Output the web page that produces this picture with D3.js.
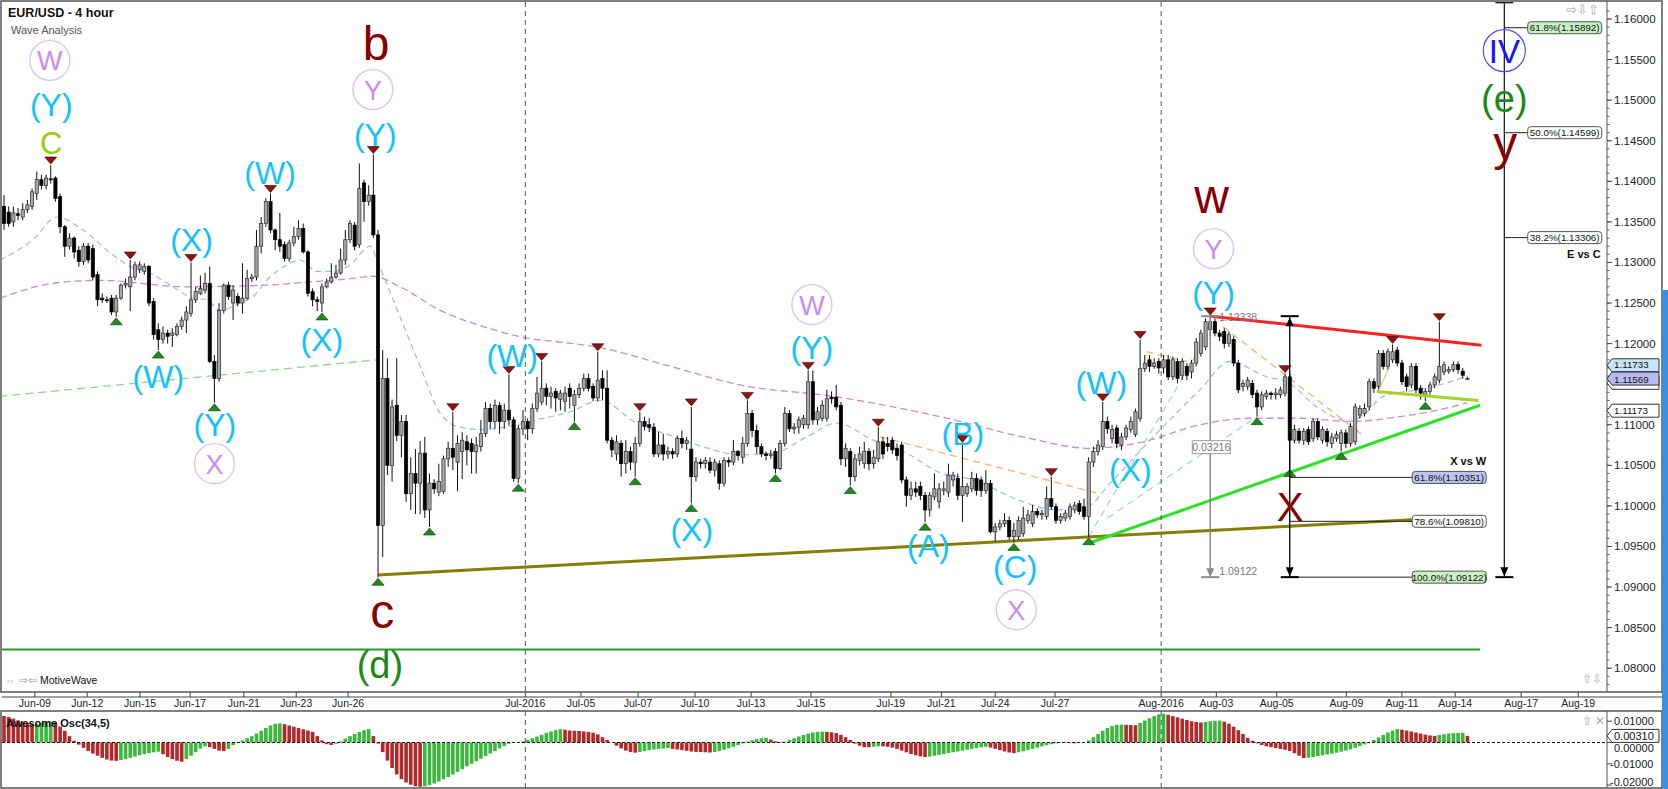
<!DOCTYPE html>
<html><head><meta charset="utf-8">
<script src="https://cdn.jsdelivr.net/npm/d3@7/dist/d3.min.js"></script>
<style>html,body{margin:0;padding:0;background:#fff;}svg{display:block;font-family:"Liberation Sans",Arial,sans-serif;}</style>
</head><body><svg id="chart" width="1668" height="789"></svg>
<script>
// ---------------- DATA ----------------
// 4-hour candles [open, high, low, close], bar index 0..313
const ohlc = [
[1.1369,1.1383,1.1340,1.1348],[1.1362,1.1369,1.1344,1.1348],[1.1350,1.1369,1.1344,1.1361],[1.1360,1.1367,1.1352,1.1358],[1.1356,1.1373,1.1352,1.1365],
[1.1365,1.1377,1.1361,1.1371],[1.1369,1.1391,1.1365,1.1387],[1.1385,1.1412,1.1377,1.1402],[1.1402,1.1408,1.1390,1.1395],[1.1395,1.1408,1.1390,1.1404],
[1.1403,1.1420,1.1397,1.1402],[1.1404,1.1406,1.1375,1.1379],[1.1381,1.1385,1.1336,1.1344],[1.1344,1.1346,1.1307,1.1320],[1.1320,1.1336,1.1316,1.1330],
[1.1330,1.1332,1.1305,1.1313],[1.1315,1.1320,1.1295,1.1301],[1.1301,1.1324,1.1297,1.1320],[1.1320,1.1324,1.1299,1.1303],[1.1317,1.1322,1.1278,1.1282],
[1.1285,1.1289,1.1246,1.1254],[1.1256,1.1262,1.1250,1.1254],[1.1254,1.1258,1.1250,1.1253],[1.1256,1.1260,1.1235,1.1239],[1.1239,1.1260,1.1233,1.1256],
[1.1256,1.1274,1.1254,1.1272],[1.1272,1.1280,1.1268,1.1274],[1.1270,1.1303,1.1240,1.1282],[1.1282,1.1301,1.1278,1.1297],[1.1291,1.1301,1.1287,1.1297],
[1.1289,1.1299,1.1285,1.1295],[1.1295,1.1297,1.1246,1.1250],[1.1252,1.1256,1.1205,1.1211],[1.1217,1.1225,1.1192,1.1205],[1.1205,1.1221,1.1200,1.1213],
[1.1213,1.1217,1.1200,1.1209],[1.1210,1.1219,1.1196,1.1213],[1.1211,1.1225,1.1209,1.1221],[1.1221,1.1233,1.1217,1.1229],[1.1229,1.1246,1.1213,1.1239],
[1.1237,1.1300,1.1233,1.1254],[1.1254,1.1270,1.1250,1.1264],[1.1262,1.1284,1.1260,1.1268],[1.1266,1.1287,1.1262,1.1274],[1.1274,1.1295,1.1176,1.1178],
[1.1178,1.1186,1.1127,1.1157],[1.1157,1.1250,1.1153,1.1241],[1.1241,1.1274,1.1237,1.1272],[1.1272,1.1276,1.1254,1.1258],[1.1250,1.1272,1.1229,1.1266],
[1.1258,1.1262,1.1246,1.1250],[1.1250,1.1299,1.1237,1.1256],[1.1256,1.1291,1.1254,1.1280],[1.1280,1.1286,1.1276,1.1282],[1.1282,1.1340,1.1278,1.1320],
[1.1320,1.1356,1.1311,1.1348],[1.1348,1.1379,1.1344,1.1375],[1.1375,1.1385,1.1336,1.1340],[1.1340,1.1342,1.1315,1.1328],[1.1328,1.1361,1.1313,1.1320],
[1.1322,1.1326,1.1301,1.1305],[1.1305,1.1328,1.1301,1.1324],[1.1324,1.1344,1.1320,1.1332],[1.1332,1.1352,1.1328,1.1342],[1.1342,1.1348,1.1311,1.1313],
[1.1313,1.1315,1.1258,1.1262],[1.1264,1.1268,1.1246,1.1254],[1.1254,1.1258,1.1240,1.1252],[1.1250,1.1274,1.1239,1.1270],[1.1270,1.1280,1.1268,1.1276],
[1.1276,1.1299,1.1274,1.1282],[1.1282,1.1297,1.1280,1.1287],[1.1287,1.1317,1.1285,1.1303],[1.1303,1.1340,1.1297,1.1328],[1.1328,1.1352,1.1324,1.1348],
[1.1346,1.1350,1.1315,1.1320],[1.1322,1.1422,1.1318,1.1391],[1.1398,1.1402,1.1350,1.1375],[1.1375,1.1395,1.1370,1.1383],[1.1383,1.1433,1.1330,1.1334],
[1.1334,1.1340,1.0912,1.0976],[1.0976,1.1192,1.0937,1.1157],[1.1157,1.1182,1.1038,1.1050],[1.1050,1.1131,1.1030,1.1122],[1.1124,1.1182,1.1080,1.1087],
[1.1087,1.1112,1.1060,1.1104],[1.1104,1.1112,1.1005,1.1015],[1.1015,1.1060,1.0995,1.1040],[1.1040,1.1070,1.0990,1.1028],[1.1028,1.1080,1.0990,1.1065],
[1.1065,1.1085,1.0985,1.0995],[1.0995,1.1040,1.0974,1.1028],[1.1028,1.1033,1.1015,1.1021],[1.1017,1.1052,1.1012,1.1030],[1.1018,1.1062,1.1015,1.1058],
[1.1058,1.1079,1.1048,1.1071],[1.1071,1.1116,1.1044,1.1060],[1.1054,1.1087,1.1018,1.1077],[1.1067,1.1091,1.1033,1.1081],[1.1079,1.1087,1.1050,1.1069],
[1.1077,1.1083,1.1040,1.1067],[1.1067,1.1085,1.1040,1.1075],[1.1073,1.1106,1.1067,1.1089],[1.1089,1.1128,1.1085,1.1120],[1.1120,1.1126,1.1095,1.1104],
[1.1104,1.1131,1.1095,1.1124],[1.1124,1.1128,1.1089,1.1104],[1.1104,1.1126,1.1095,1.1118],[1.1118,1.1162,1.1099,1.1106],[1.1106,1.1110,1.1030,1.1034],
[1.1034,1.1100,1.1028,1.1095],[1.1095,1.1118,1.1087,1.1104],[1.1104,1.1108,1.1081,1.1095],[1.1095,1.1126,1.1089,1.1120],[1.1120,1.1159,1.1116,1.1139],
[1.1128,1.1178,1.1124,1.1145],[1.1145,1.1151,1.1124,1.1135],[1.1135,1.1147,1.1120,1.1139],[1.1141,1.1145,1.1116,1.1133],[1.1131,1.1143,1.1118,1.1139],
[1.1129,1.1147,1.1116,1.1139],[1.1145,1.1151,1.1120,1.1135],[1.1124,1.1143,1.1104,1.1137],[1.1137,1.1151,1.1133,1.1145],[1.1145,1.1163,1.1141,1.1157],
[1.1157,1.1163,1.1141,1.1145],[1.1147,1.1151,1.1129,1.1133],[1.1133,1.1190,1.1129,1.1155],[1.1157,1.1167,1.1130,1.1145],[1.1145,1.1167,1.1077,1.1081],
[1.1081,1.1085,1.1060,1.1069],[1.1064,1.1087,1.1056,1.1079],[1.1077,1.1081,1.1036,1.1052],[1.1052,1.1081,1.1040,1.1067],[1.1067,1.1073,1.1044,1.1054],
[1.1054,1.1085,1.1036,1.1077],[1.1077,1.1116,1.1073,1.1104],[1.1104,1.1110,1.1093,1.1098],[1.1100,1.1108,1.1091,1.1097],[1.1097,1.1102,1.1060,1.1064],
[1.1064,1.1091,1.1060,1.1075],[1.1075,1.1089,1.1056,1.1064],[1.1064,1.1073,1.1058,1.1067],[1.1067,1.1071,1.1058,1.1064],[1.1064,1.1087,1.1060,1.1083],
[1.1083,1.1093,1.1071,1.1077],[1.1077,1.1085,1.1069,1.1081],[1.1070,1.1122,1.1003,1.1036],[1.1036,1.1060,1.1030,1.1054],[1.1054,1.1058,1.1046,1.1052],
[1.1052,1.1060,1.1046,1.1056],[1.1054,1.1060,1.1040,1.1044],[1.1044,1.1058,1.1036,1.1054],[1.1052,1.1056,1.1020,1.1028],[1.1028,1.1060,1.1024,1.1056],
[1.1056,1.1060,1.1048,1.1054],[1.1054,1.1081,1.1050,1.1067],[1.1067,1.1069,1.1056,1.1062],[1.1060,1.1085,1.1052,1.1077],[1.1077,1.1130,1.1073,1.1114],
[1.1114,1.1118,1.1085,1.1093],[1.1093,1.1100,1.1064,1.1073],[1.1073,1.1077,1.1060,1.1064],[1.1064,1.1067,1.1056,1.1062],[1.1062,1.1069,1.1058,1.1064],
[1.1067,1.1071,1.1040,1.1046],[1.1046,1.1081,1.1044,1.1077],[1.1077,1.1122,1.1073,1.1114],[1.1114,1.1118,1.1091,1.1095],[1.1095,1.1102,1.1089,1.1097],
[1.1097,1.1110,1.1089,1.1106],[1.1100,1.1112,1.1095,1.1108],[1.1100,1.1167,1.1095,1.1153],[1.1153,1.1167,1.1100,1.1106],[1.1106,1.1122,1.1100,1.1116],
[1.1108,1.1130,1.1104,1.1124],[1.1108,1.1143,1.1104,1.1132],[1.1134,1.1141,1.1126,1.1132],[1.1134,1.1149,1.1118,1.1122],[1.1124,1.1128,1.1050,1.1058],
[1.1058,1.1077,1.1048,1.1071],[1.1067,1.1071,1.1025,1.1036],[1.1036,1.1064,1.1030,1.1058],[1.1056,1.1073,1.1050,1.1064],[1.1052,1.1079,1.1046,1.1067],
[1.1067,1.1071,1.1044,1.1052],[1.1052,1.1069,1.1046,1.1060],[1.1058,1.1097,1.1054,1.1079],[1.1079,1.1085,1.1058,1.1064],[1.1077,1.1085,1.1067,1.1073],
[1.1081,1.1085,1.1064,1.1069],[1.1071,1.1077,1.1056,1.1062],[1.1075,1.1079,1.1028,1.1032],[1.1032,1.1036,1.0999,1.1013],[1.1013,1.1030,1.1007,1.1021],
[1.1021,1.1030,1.1011,1.1017],[1.1024,1.1030,1.1007,1.1013],[1.1013,1.1017,1.0980,1.0995],[1.0995,1.1017,1.0987,1.1013],[1.1011,1.1040,1.1007,1.1021],
[1.1005,1.1028,1.0997,1.1021],[1.1019,1.1030,1.1013,1.1021],[1.1017,1.1052,1.1011,1.1038],[1.1032,1.1042,1.1024,1.1038],[1.1034,1.1040,1.1007,1.1013],
[1.1013,1.1077,1.0980,1.1024],[1.1015,1.1028,1.1011,1.1024],[1.1021,1.1042,1.1017,1.1034],[1.1034,1.1040,1.1013,1.1019],[1.1032,1.1036,1.1011,1.1019],
[1.1019,1.1044,1.1015,1.1028],[1.1028,1.1032,1.0966,1.0968],[1.0968,1.0979,1.0956,1.0974],[1.0974,1.0983,1.0970,1.0978],[1.0978,1.0991,1.0974,1.0982],
[1.0982,1.0987,1.0958,1.0962],[1.0962,1.0979,1.0955,1.0970],[1.0962,1.0987,1.0958,1.0982],[1.0966,1.0999,1.0962,1.0985],[1.0982,1.0995,1.0978,1.0989],
[1.0978,1.1001,1.0974,1.0993],[1.0993,1.0997,1.0985,1.0989],[1.0989,1.0995,1.0983,1.0991],[1.0987,1.1024,1.0983,1.1009],[1.1009,1.1036,1.0995,1.0999],
[1.0999,1.1003,1.0978,1.0982],[1.0982,1.0991,1.0978,1.0987],[1.0985,1.0995,1.0981,1.0991],[1.0987,1.1003,1.0983,1.0999],[1.0995,1.1005,1.0991,1.1001],
[1.1003,1.1007,1.0989,1.0993],[1.0999,1.1009,1.0983,1.0987],[1.0987,1.1060,1.0962,1.1054],[1.1054,1.1073,1.1048,1.1067],[1.1067,1.1081,1.1062,1.1075],
[1.1073,1.1128,1.1069,1.1104],[1.1104,1.1110,1.1089,1.1095],[1.1083,1.1100,1.1077,1.1094],[1.1096,1.1100,1.1071,1.1077],[1.1075,1.1090,1.1069,1.1085],
[1.1085,1.1100,1.1081,1.1096],[1.1094,1.1110,1.1090,1.1104],[1.1088,1.1120,1.1085,1.1116],[1.1108,1.1205,1.1104,1.1169],[1.1169,1.1186,1.1165,1.1176],
[1.1180,1.1186,1.1165,1.1172],[1.1172,1.1182,1.1169,1.1176],[1.1178,1.1182,1.1163,1.1170],[1.1170,1.1186,1.1163,1.1180],[1.1180,1.1186,1.1155,1.1159],
[1.1159,1.1184,1.1155,1.1180],[1.1178,1.1182,1.1151,1.1157],[1.1161,1.1182,1.1155,1.1178],[1.1172,1.1176,1.1155,1.1161],[1.1165,1.1180,1.1157,1.1176],
[1.1176,1.1207,1.1172,1.1202],[1.1188,1.1217,1.1184,1.1213],[1.1196,1.1231,1.1192,1.1227],[1.1217,1.1234,1.1210,1.1227],[1.1227,1.1231,1.1209,1.1213],
[1.1213,1.1217,1.1203,1.1209],[1.1215,1.1219,1.1194,1.1200],[1.1200,1.1215,1.1196,1.1211],[1.1205,1.1209,1.1172,1.1176],[1.1176,1.1180,1.1139,1.1143],
[1.1147,1.1155,1.1141,1.1151],[1.1147,1.1159,1.1143,1.1155],[1.1151,1.1155,1.1133,1.1137],[1.1139,1.1143,1.1110,1.1122],[1.1122,1.1141,1.1118,1.1137],
[1.1135,1.1143,1.1131,1.1139],[1.1139,1.1141,1.1131,1.1137],[1.1137,1.1145,1.1131,1.1139],[1.1137,1.1147,1.1133,1.1143],[1.1139,1.1163,1.1135,1.1159],
[1.1159,1.1163,1.1046,1.1081],[1.1081,1.1100,1.1077,1.1094],[1.1092,1.1096,1.1077,1.1081],[1.1081,1.1096,1.1075,1.1092],[1.1094,1.1098,1.1075,1.1079],
[1.1083,1.1108,1.1079,1.1104],[1.1104,1.1108,1.1081,1.1085],[1.1081,1.1098,1.1077,1.1094],[1.1092,1.1096,1.1073,1.1079],[1.1077,1.1090,1.1071,1.1085],
[1.1083,1.1092,1.1079,1.1088],[1.1077,1.1094,1.1067,1.1090],[1.1090,1.1094,1.1071,1.1077],[1.1077,1.1102,1.1073,1.1098],[1.1079,1.1126,1.1075,1.1122],
[1.1112,1.1124,1.1108,1.1120],[1.1114,1.1126,1.1110,1.1120],[1.1122,1.1157,1.1118,1.1153],[1.1153,1.1157,1.1139,1.1145],[1.1147,1.1192,1.1143,1.1188],
[1.1188,1.1192,1.1168,1.1172],[1.1172,1.1194,1.1168,1.1190],[1.1180,1.1199,1.1176,1.1190],[1.1192,1.1196,1.1172,1.1176],[1.1176,1.1180,1.1149,1.1153],
[1.1159,1.1163,1.1141,1.1147],[1.1149,1.1176,1.1145,1.1172],[1.1172,1.1176,1.1139,1.1143],[1.1145,1.1149,1.1131,1.1139],[1.1137,1.1145,1.1129,1.1141],
[1.1141,1.1153,1.1137,1.1149],[1.1149,1.1163,1.1145,1.1159],[1.1155,1.1227,1.1151,1.1172],[1.1165,1.1178,1.1161,1.1174],[1.1166,1.1172,1.1163,1.1168],
[1.1168,1.1178,1.1165,1.1174],[1.1174,1.1178,1.1163,1.1168],[1.1166,1.1170,1.1157,1.1161],[1.1157,1.1159,1.1155,1.1157]
];
// swing markers (bar indices)
const swingHighs = [10,27,40,57,79,96,108,115,127,136,147,159,172,187,205,224,235,243,258,274,297,307];
const swingLows  = [24,33,45,68,80,91,110,122,135,147,165,181,197,216,232,268,275,286,304];

// Awesome Oscillator (34,5) histogram, one value per bar
const aoValues = [
0.0125,0.0120,0.0112,0.0104,0.0098,0.0092,0.0086,0.0088,0.0092,0.0095,0.0098,0.0094,0.0075,0.0055,0.0030,0.0008,
-0.0010,-0.0025,-0.0040,-0.0052,-0.0062,-0.0072,-0.0080,-0.0085,-0.0086,
-0.0082,-0.0078,-0.0072,-0.0066,-0.0060,-0.0055,-0.0050,-0.0046,-0.0043,
-0.0055,-0.0068,-0.0078,-0.0086,-0.0090,
-0.0078,-0.0062,-0.0045,-0.0028,-0.0018,
-0.0022,-0.0030,-0.0038,-0.0040,-0.0030,-0.0012,0.0002,
0.0010,0.0020,0.0030,0.0042,0.0055,0.0068,0.0080,0.0088,0.0090,
0.0086,0.0080,0.0074,0.0068,0.0062,0.0056,0.0050,0.0030,0.0010,
-0.0008,-0.0012,
-0.0006,0.0006,0.0018,0.0030,0.0040,0.0050,0.0058,0.0063,
0.0030,-0.0005,
-0.0045,-0.0085,-0.0120,-0.0150,-0.0172,-0.0188,-0.0198,-0.0205,-0.0208,
-0.0206,-0.0200,-0.0192,-0.0183,-0.0173,-0.0162,-0.0150,-0.0138,-0.0125,-0.0112,-0.0100,-0.0088,-0.0076,-0.0064,-0.0052,-0.0040,-0.0028,-0.0016,
-0.0006,0.0000,-0.0002,0.0005,
0.0012,0.0020,0.0028,0.0036,0.0045,0.0052,0.0058,0.0063,
0.0060,0.0056,0.0055,0.0054,0.0052,0.0050,0.0046,0.0038,0.0025,0.0012,0.0000,
-0.0015,-0.0028,-0.0038,-0.0045,-0.0048,
-0.0044,-0.0040,-0.0036,-0.0033,-0.0030,-0.0028,-0.0026,
-0.0030,-0.0033,-0.0036,-0.0039,-0.0042,-0.0044,-0.0045,-0.0046,-0.0047,-0.0045,
-0.0040,-0.0034,-0.0027,-0.0020,-0.0012,-0.0004,
0.0004,0.0010,0.0016,0.0020,0.0022,0.0014,
0.0006,0.0002,0.0004,
0.0012,0.0020,0.0028,0.0035,0.0042,0.0047,0.0050,0.0051,
0.0050,0.0048,0.0044,0.0036,0.0025,0.0012,
-0.0005,-0.0015,-0.0022,-0.0022,-0.0020,-0.0018,-0.0018,-0.0020,-0.0024,-0.0030,
-0.0038,-0.0046,-0.0054,-0.0060,-0.0065,-0.0068,
-0.0066,-0.0062,-0.0058,-0.0054,-0.0050,-0.0046,-0.0042,-0.0038,-0.0034,-0.0030,-0.0026,-0.0022,-0.0020,
-0.0024,-0.0030,-0.0036,-0.0042,-0.0047,-0.0050,
-0.0046,-0.0041,-0.0036,-0.0030,-0.0024,-0.0018,-0.0013,-0.0008,-0.0004,-0.0001,
-0.0002,-0.0003,-0.0004,-0.0002,0.0000,
0.0010,0.0025,0.0040,0.0055,0.0068,0.0078,0.0083,0.0084,
0.0083,0.0082,0.0081,
0.0092,0.0103,0.0114,0.0124,0.0132,0.0135,
0.0130,0.0124,0.0118,0.0112,0.0106,0.0100,0.0096,0.0094,
0.0097,0.0100,0.0102,0.0103,
0.0098,0.0088,0.0074,0.0058,0.0040,0.0022,0.0008,
-0.0004,-0.0012,-0.0018,-0.0022,-0.0026,-0.0030,-0.0034,-0.0040,-0.0050,-0.0062,-0.0073,
-0.0071,-0.0068,-0.0064,-0.0060,-0.0056,-0.0052,-0.0048,-0.0043,-0.0038,-0.0032,-0.0025,-0.0017,-0.0009,
0.0000,0.0012,0.0024,0.0036,0.0047,0.0056,0.0063,
0.0060,0.0056,0.0052,0.0047,0.0042,0.0037,0.0033,0.0031,
0.0035,0.0039,0.0042,0.0044,0.0045,0.0046,
0.0031
];

// moving averages: [bar index, price]
const maFast = [[-0.9,1.1303],[6.2,1.1328],[11.3,1.1356],[16.9,1.1340],[22.7,1.1312],[27,1.1295],[31.2,1.1287],[36.1,1.1270],[40.4,1.1256],[43.4,1.1254],[46.2,1.1241],[50.5,1.1250],[53.3,1.1258],[56.2,1.1278],[60.5,1.1297],[63.3,1.1303],[66.9,1.1289],[70.4,1.1289],[74,1.1297],[78.3,1.1320],[80,1.1299],[84.7,1.1233],[89,1.1172],[93.3,1.1114],[97.5,1.1097],[102.5,1.1094],[108.2,1.1098],[113.9,1.1106],[121.1,1.1116],[127.5,1.1130],[135.3,1.1102],[142.5,1.1087],[149.5,1.1073],[157.4,1.1063],[164.5,1.1065],[171.7,1.1085],[178.1,1.1102],[185.9,1.1081],[193.1,1.1065],[200.2,1.1041],[207.3,1.1032],[218,1.1005],[225.2,1.0995],[231.6,1.0999],[236.6,1.1028],[245.8,1.1085],[255.8,1.1143],[262.2,1.1178],[270.1,1.1159],[274.4,1.1153],[280.8,1.1122],[287.9,1.1104],[291.5,1.1116],[295,1.1135],[302.2,1.1143],[305.7,1.1147],[313,1.1160]];
const maSlow = [[-0.9,1.1256],[11.3,1.1275],[20.5,1.1278],[39,1.1270],[56,1.1272],[65.5,1.1276],[74,1.1280],[79,1.1283],[84.7,1.1270],[93.3,1.1241],[102.5,1.1221],[111.7,1.1207],[120.4,1.1201],[127.5,1.1195],[142.5,1.1172],[157.4,1.1149],[177.3,1.1135],[200.2,1.1110],[217.9,1.1085],[232.3,1.1071],[243,1.1078],[255.8,1.1100],[266.5,1.1108],[277.2,1.1108],[287.9,1.1104],[298.6,1.1110],[305,1.1116],[313,1.1127]];

// trend lines [ [idx,price],[idx,price] ]
const lineOlive   = [[80,1.0915],[301.2,1.0983]];
const lineGreen   = [[232,1.0954],[315.7,1.1124]];
const lineRed     = [[258,1.12338],[316,1.1198]];
const lineLime    = [[293.6,1.1141],[315.3,1.1130]];
const lineLimeThin= [[293.9,1.1141],[296.4,1.1172]];
const lineBase    = [[-1,1.0823],[315.7,1.0823]];
const dashGreenLeft = [[-1,1.1135],[79.7,1.1180]];
const dashOrange  = [[[244.4,1.1190],[253,1.1178]],[[260.7,1.1221],[291.1,1.1085]],[[187.4,1.1085],[233.7,1.1016]]];
const dashMint    = [[[232,1.0962],[258.5,1.1220]],[[236,1.0985],[268,1.1110]]];

// measurement tools
const measureWY   = {idx:258, from:1.12338, to:1.09122, diff:"0.03216"};
const measureXW   = {idx:275, from:1.12338, to:1.09122};
const measureEC   = {idx:320.9, from:1.1622, to:1.09122};
const fibXW = [["61.8%",1.10351],["78.6%",1.09810],["100.0%",1.09122]];
const fibEC = [["61.8%",1.15892],["50.0%",1.14599],["38.2%",1.13306]];
const fibBoxXW = 301.2, fibBoxEC = 325.9;

// price axis & tags
const priceTicks = [1.080,1.085,1.090,1.095,1.100,1.105,1.110,1.115,1.120,1.125,1.130,1.135,1.140,1.145,1.150,1.155,1.160];
const priceTags = [1.11173,1.11517,1.11733,1.11569];
const aoTicks = [0.01,0,-0.01,-0.02];
const aoLast = 0.00310;

// time axis
const timeLabels = ["Jun-09","Jun-12","Jun-15","Jun-17","Jun-21","Jun-23","Jun-26","Jul-2016","Jul-05","Jul-07","Jul-10","Jul-13","Jul-15","Jul-19","Jul-21","Jul-24","Jul-27","Aug-2016","Aug-03","Aug-05","Aug-09","Aug-11","Aug-14","Aug-17","Aug-19"];
const timeIdx = [6.6,17.8,29.1,39.8,51.3,62.5,73.6,111.5,123.4,135.6,147.8,159.8,172.6,189.7,200.5,212,224.8,247.5,259.3,272.2,287.1,299,310.4,324.5,336.7];
const monthStarts = [111.5,247.5];

// wave labels [text, idx, price]
const cyanLabels = [["(Y)",10.1,1.1494],["(Y)",79.4,1.1457],["(W)",56.9,1.1410],["(X)",40.1,1.1328],["(W)",33.0,1.1159],["(Y)",45.1,1.1100],["(X)",68.0,1.1204],["(W)",108.7,1.1185],["(X)",147.1,1.0970],["(Y)",172.8,1.1194],["(B)",205.1,1.1089],["(A)",197.7,1.0950],["(C)",216.3,1.0925],["(W)",234.7,1.1151],["(X)",240.9,1.1044],["(Y)",258.7,1.1262]];
const circledLabels = [["W",9.8,1.1549],["Y",78.9,1.1513],["X",45.0,1.1052],["W",172.8,1.1248],["X",216.5,1.0872],["Y",258.7,1.1317]];
const primaryLabels = [["b",79.6,1.1549],["c",80.9,1.0850],["w",258.3,1.1361],["y",321.1,1.1426],["X",275.1,1.0981]];
const greenLabels = [["(d)",80.4,1.0804],["(e)",320.9,1.1502]];
const minorLabels = [["C",10.1,1.1447]];
const blueCircled = [["IV",320.9,1.1561]];

// ---------------- DRAW ----------------
const svg = d3.select("#chart");
const AX = 1607;                 // price axis x
const x = d3.scaleLinear().domain([-0.43,343.5]).range([2,1610]);
const y = d3.scaleLinear().domain([1.08,1.16]).range([668.2,19]);
const yo = d3.scaleLinear().domain([-0.01,0.01]).range([763.8,721.2]);

const defs = svg.append("defs");
defs.append("clipPath").attr("id","cm").append("rect").attr("x",2).attr("y",2).attr("width",AX-2).attr("height",690);
defs.append("clipPath").attr("id","co").append("rect").attr("x",2).attr("y",712).attr("width",AX-2).attr("height",75);

svg.append("rect").attr("width",1668).attr("height",789).attr("fill","#fff");

// frames
svg.append("rect").attr("x",1).attr("y",1).attr("width",1661).attr("height",691).attr("fill","none").attr("stroke","#555").attr("stroke-width",1.5);
svg.append("rect").attr("x",1).attr("y",711).attr("width",1661).attr("height",77).attr("fill","none").attr("stroke","#555").attr("stroke-width",1.5);
svg.append("rect").attr("x",1662).attr("y",290).attr("width",6).attr("height",499).attr("fill","#3d8ee0");

const main = svg.append("g").attr("clip-path","url(#cm)");
const osc = svg.append("g").attr("clip-path","url(#co)");

// month separators
monthStarts.forEach(m=>{
  [[2,692],[711,788]].forEach(r=>{
    svg.append("line").attr("x1",x(m)).attr("x2",x(m)).attr("y1",r[0]).attr("y2",r[1])
      .attr("stroke","#555").attr("stroke-width",1).attr("stroke-dasharray","5,4");
  });
});

// moving averages
const lineGen = d3.line().x(d=>x(d[0])).y(d=>y(d[1])).curve(d3.curveMonotoneX);
main.append("path").attr("d",lineGen(maSlow)).attr("fill","none").attr("stroke","#c98bd0").attr("stroke-width",1.3).attr("stroke-dasharray","7,4");
main.append("path").attr("d",lineGen(maFast)).attr("fill","none").attr("stroke","#9db8f2").attr("stroke-width",1.2).attr("stroke-dasharray","6,4");

// trend lines
function seg(g,pts,color,w,dash){
  const l=g.append("line").attr("x1",x(pts[0][0])).attr("y1",y(pts[0][1])).attr("x2",x(pts[1][0])).attr("y2",y(pts[1][1]))
   .attr("stroke",color).attr("stroke-width",w);
  if(dash) l.attr("stroke-dasharray",dash);
  return l;
}
seg(main,dashGreenLeft,"#96d096",1.3,"8,5");
dashOrange.forEach(s=>seg(main,s,"#f6b27c",1.3,"7,5"));
dashMint.forEach(s=>seg(main,s,"#a3d9b4",1.2,"7,5"));
seg(main,lineBase,"#23a023",2);
seg(main,lineOlive,"#857f00",3);

// candles
const cg = main.append("g");
cg.selectAll("line.w").data(ohlc).join("line").attr("class","w")
  .attr("x1",(d,i)=>x(i)).attr("x2",(d,i)=>x(i)).attr("y1",d=>y(d[1])).attr("y2",d=>y(d[2]))
  .attr("stroke","#111").attr("stroke-width",1);
cg.selectAll("rect.b").data(ohlc).join("rect").attr("class","b")
  .attr("x",(d,i)=>x(i)-1.6).attr("width",3.2)
  .attr("y",d=>y(Math.max(d[0],d[3])))
  .attr("height",d=>Math.max(1,Math.abs(y(d[0])-y(d[3]))))
  .attr("fill",d=>d[3]>=d[0]?"#a6a6a6":"#000")
  .attr("stroke",d=>d[3]>=d[0]?"#2a2a2a":"#000").attr("stroke-width",0.7);

seg(main,lineGreen,"#2fe02a",3);
seg(main,lineRed,"#ff2222",3);
seg(main,lineLime,"#a8d02c",3);
seg(main,lineLimeThin,"#b9cc6e",1);

// swing markers
main.selectAll("path.hm").data(swingHighs).join("path").attr("class","hm")
  .attr("d",i=>{const cx=x(i),t=y(ohlc[i][1])-1;return `M${cx-6},${t-7}L${cx+6},${t-7}L${cx},${t}Z`;})
  .attr("fill","#8e1414").attr("stroke","#3a0000").attr("stroke-width",0.6);
main.selectAll("path.lm").data(swingLows).join("path").attr("class","lm")
  .attr("d",i=>{const cx=x(i),t=y(ohlc[i][2])+1;return `M${cx-6},${t+7}L${cx+6},${t+7}L${cx},${t}Z`;})
  .attr("fill","#1f8a1f").attr("stroke","#003a00").attr("stroke-width",0.6);

// measurement: W->Y (gray)
(function(){
  const m=measureWY, cx=x(m.idx), y1=y(m.from), y2=y(m.to), c="#8a8a8a";
  main.append("line").attr("x1",cx).attr("x2",cx).attr("y1",y1).attr("y2",y2).attr("stroke",c).attr("stroke-width",1.5);
  main.append("line").attr("x1",cx-9).attr("x2",cx+9).attr("y1",y1).attr("y2",y1).attr("stroke",c).attr("stroke-width",2);
  main.append("line").attr("x1",cx-9).attr("x2",cx+9).attr("y1",y2).attr("y2",y2).attr("stroke",c).attr("stroke-width",2);
  main.append("path").attr("d",`M${cx-4},${y2-9}L${cx+4},${y2-9}L${cx},${y2}Z`).attr("fill",c);
  main.append("text").attr("x",cx+9).attr("y",y1+5).text(m.from.toFixed(5)).attr("font-size",10.5).attr("fill","#777");
  main.append("text").attr("x",cx+9).attr("y",y2-2).text(m.to.toFixed(5)).attr("font-size",10.5).attr("fill","#777");
  const ym=(y1+y2)/2;
  main.append("rect").attr("x",cx-18).attr("y",ym-6).attr("width",38).attr("height",13).attr("fill","#fff").attr("stroke","#999");
  main.append("text").attr("x",cx+1).attr("y",ym+4).attr("text-anchor","middle").text(m.diff).attr("font-size",10.5).attr("fill","#777");
})();

// fib box helper
function fibBox(g,xl,py,label,fill){
  const yy=y(py);
  g.append("rect").attr("x",xl).attr("y",yy-6).attr("width",74).attr("height",12).attr("rx",3)
   .attr("fill",fill).attr("stroke","#555").attr("stroke-width",1);
  g.append("text").attr("x",xl+37).attr("y",yy+3.5).attr("text-anchor","middle").attr("font-size",9.8).attr("fill","#111")
   .text(`${label}(${py.toFixed(5)})`);
}
// measurement: X vs W (black)
(function(){
  const m=measureXW, cx=x(m.idx), y1=y(m.from), y2=y(m.to);
  fibXW.forEach(f=>main.append("line").attr("x1",cx).attr("x2",x(fibBoxXW)).attr("y1",y(f[1])).attr("y2",y(f[1])).attr("stroke","#222").attr("stroke-width",1));
  main.append("line").attr("x1",cx).attr("x2",cx).attr("y1",y1).attr("y2",y2).attr("stroke","#000").attr("stroke-width",1.3);
  main.append("line").attr("x1",cx-9).attr("x2",cx+9).attr("y1",y1).attr("y2",y1).attr("stroke","#000").attr("stroke-width",2);
  main.append("line").attr("x1",cx-9).attr("x2",cx+9).attr("y1",y2).attr("y2",y2).attr("stroke","#000").attr("stroke-width",2);
  main.append("path").attr("d",`M${cx-4},${y1+10}L${cx+4},${y1+10}L${cx},${y1+1}Z`).attr("fill","#000");
  main.append("path").attr("d",`M${cx-4},${y2-10}L${cx+4},${y2-10}L${cx},${y2-1}Z`).attr("fill","#000");
  const fills=["#bcc3f3","#ffffff","#c9f2c4"];
  fibXW.forEach((f,k)=>fibBox(main,x(fibBoxXW),f[1],f[0],fills[k]));
  main.append("text").attr("x",x(fibBoxXW)+74).attr("y",y(fibXW[0][1])-12).attr("text-anchor","end")
    .attr("font-size",11).attr("font-weight","bold").attr("fill","#111").text("X vs W");
})();
// measurement: E vs C
(function(){
  const m=measureEC, cx=x(m.idx), y1=y(m.from), y2=y(m.to);
  fibEC.forEach(f=>main.append("line").attr("x1",cx).attr("x2",x(fibBoxEC)).attr("y1",y(f[1])).attr("y2",y(f[1])).attr("stroke","#222").attr("stroke-width",1));
  main.append("line").attr("x1",cx).attr("x2",cx).attr("y1",y1).attr("y2",y2).attr("stroke","#222").attr("stroke-width",1.3);
  main.append("line").attr("x1",cx-9).attr("x2",cx+9).attr("y1",y1+1).attr("y2",y1+1).attr("stroke","#222").attr("stroke-width",2.5);
  main.append("line").attr("x1",cx-9).attr("x2",cx+9).attr("y1",y2).attr("y2",y2).attr("stroke","#000").attr("stroke-width",2);
  main.append("path").attr("d",`M${cx-4},${y2-10}L${cx+4},${y2-10}L${cx},${y2-1}Z`).attr("fill","#000");
  const fills=["#c9f2c4","#ffffff","#ffffff"];
  fibEC.forEach((f,k)=>fibBox(main,x(fibBoxEC),f[1],f[0],fills[k]));
  main.append("text").attr("x",x(fibBoxEC)+73).attr("y",y(fibEC[2][1])+20).attr("text-anchor","end")
    .attr("font-size",11).attr("font-weight","bold").attr("fill","#111").text("E vs C");
})();

// wave labels
const lab = svg.append("g");
cyanLabels.forEach(d=>lab.append("text").attr("x",x(d[1])).attr("y",y(d[2])).attr("text-anchor","middle")
  .attr("dominant-baseline","central").attr("font-size",32).attr("fill","#12c2ff").text(d[0]));
circledLabels.forEach(d=>{
  lab.append("circle").attr("cx",x(d[1])).attr("cy",y(d[2])).attr("r",20).attr("fill","none").attr("stroke","#dcc0f7").attr("stroke-width",1.3);
  lab.append("text").attr("x",x(d[1])).attr("y",y(d[2])+1).attr("text-anchor","middle").attr("dominant-baseline","central")
    .attr("font-size",27).attr("fill","#c88cf5").text(d[0]);
});
primaryLabels.forEach(d=>lab.append("text").attr("x",x(d[1])).attr("y",y(d[2])).attr("text-anchor","middle")
  .attr("font-size",d[0]==="X"?40:48).attr("fill","#880000").text(d[0]));
greenLabels.forEach(d=>lab.append("text").attr("x",x(d[1])).attr("y",y(d[2])).attr("text-anchor","middle")
  .attr("dominant-baseline","central").attr("font-size",38).attr("fill","#1b8a1b").text(d[0]));
minorLabels.forEach(d=>lab.append("text").attr("x",x(d[1])).attr("y",y(d[2])).attr("text-anchor","middle")
  .attr("dominant-baseline","central").attr("font-size",31).attr("fill","#9acb0e").text(d[0]));
blueCircled.forEach(d=>{
  lab.append("circle").attr("cx",x(d[1])).attr("cy",y(d[2])).attr("r",21).attr("fill","none").attr("stroke","#4a4aff").attr("stroke-width",1.2);
  lab.append("text").attr("x",x(d[1])).attr("y",y(d[2])+1).attr("text-anchor","middle").attr("dominant-baseline","central")
    .attr("font-size",33).attr("fill","#1414ff").text(d[0]);
});

// price axis (labels hidden behind the last-value tags are not drawn)
const pa = svg.append("g");
pa.append("line").attr("x1",AX).attr("x2",AX).attr("y1",1).attr("y2",692).attr("stroke","#555");
d3.range(1.077,1.1625,0.001).forEach(v=>{
  const yy=y(v); if(yy<3||yy>690) return;
  pa.append("line").attr("x1",AX).attr("x2",AX+2.5).attr("y1",yy).attr("y2",yy).attr("stroke","#555");
});
priceTicks.forEach(v=>{
  pa.append("line").attr("x1",AX).attr("x2",AX+5).attr("y1",y(v)).attr("y2",y(v)).attr("stroke","#444");
  const covered = priceTags.some(t=>Math.abs(y(t)-y(v))<10);
  if(!covered) pa.append("text").attr("x",AX+7).attr("y",y(v)+4).attr("font-size",11.5).attr("fill","#222").text(v.toFixed(5));
});
const tagFill=["#ffffff","#ffffff","#c5e6f6","#b9bbf2"];
const tagText=[true,false,true,true];
const tagDy=[3.6,0,2.6,4.8];
priceTags.forEach((v,k)=>{
  const yy=y(v);
  pa.append("path").attr("d",`M${AX},${yy}L${AX+5},${yy-6.5}L${AX+52},${yy-6.5}L${AX+52},${yy+6.5}L${AX+5},${yy+6.5}Z`)
    .attr("fill",tagFill[k]).attr("stroke","#333").attr("stroke-width",1);
  if(tagText[k]) pa.append("text").attr("x",AX+7).attr("y",yy+tagDy[k]).attr("font-size",9.8).attr("fill","#111").text(v.toFixed(5));
});

// time axis
const ta = svg.append("g");
ta.append("line").attr("x1",2).attr("x2",1662).attr("y1",697).attr("y2",697).attr("stroke","#444");
timeIdx.forEach((t,k)=>{
  ta.append("line").attr("x1",x(t)).attr("x2",x(t)).attr("y1",692).attr("y2",697).attr("stroke","#444");
  ta.append("text").attr("x",x(t)).attr("y",707).attr("text-anchor","middle").attr("font-size",10.5).attr("fill","#222").text(timeLabels[k]);
});

// oscillator
osc.selectAll("rect.ao").data(aoValues).join("rect").attr("class","ao")
  .attr("x",(d,i)=>x(i)-1.8).attr("width",3.6)
  .attr("y",d=>Math.min(yo(0),yo(d))).attr("height",d=>Math.abs(yo(d)-yo(0)))
  .attr("fill",(d,i)=> i>0 && d>aoValues[i-1] ? "#3cb83c" : "#b3292b");
svg.append("line").attr("x1",2).attr("x2",AX).attr("y1",yo(0)).attr("y2",yo(0)).attr("stroke","#111").attr("stroke-dasharray","3,2");
svg.append("line").attr("x1",AX).attr("x2",AX).attr("y1",711).attr("y2",788).attr("stroke","#555");
aoTicks.forEach(v=>{
  svg.append("line").attr("x1",AX).attr("x2",AX+5).attr("y1",yo(v)).attr("y2",yo(v)).attr("stroke","#444");
  const ty = v===0 ? yo(v)+9 : (v<-0.015 ? 786 : yo(v)+4);
  svg.append("text").attr("x",AX+(v<0?3:7)).attr("y",ty).attr("font-size",11).attr("fill","#222").text(v.toFixed(5));
});
(function(){
  const yy=yo(aoLast);
  svg.append("path").attr("d",`M${AX},${yy}L${AX+5},${yy-6.5}L${AX+52},${yy-6.5}L${AX+52},${yy+6.5}L${AX+5},${yy+6.5}Z`)
    .attr("fill","#fff").attr("stroke","#333");
  svg.append("text").attr("x",AX+7).attr("y",yy+4).attr("font-size",11).attr("fill","#111").text(aoLast.toFixed(5));
})();
svg.append("text").attr("x",6).attr("y",727).attr("font-size",11).attr("font-weight","bold").attr("fill","#111").text("Awesome Osc(34,5)");

// titles & icons
svg.append("text").attr("x",8).attr("y",17).attr("font-size",12.5).attr("font-weight","bold").attr("fill","#111").text("EUR/USD - 4 hour");
svg.append("text").attr("x",11).attr("y",34).attr("font-size",11).attr("fill","#555").text("Wave Analysis");
svg.append("text").attr("x",5).attr("y",684).attr("font-size",11).attr("fill","#999").text("⇔ ⇨⇦");
svg.append("text").attr("x",40).attr("y",684).attr("font-size",10.5).attr("fill","#111").text("MotiveWave");
svg.append("text").attr("x",1566).attr("y",14).attr("font-size",13).attr("fill","#aaa").text("⇨⇩⇧");
svg.append("text").attr("x",1582).attr("y",683).attr("font-size",12).attr("fill","#aaa").text("⇧⇩");
svg.append("text").attr("x",1582).attr("y",725).attr("font-size",12).attr("fill","#aaa").text("⇧ ✕");
</script></body></html>
